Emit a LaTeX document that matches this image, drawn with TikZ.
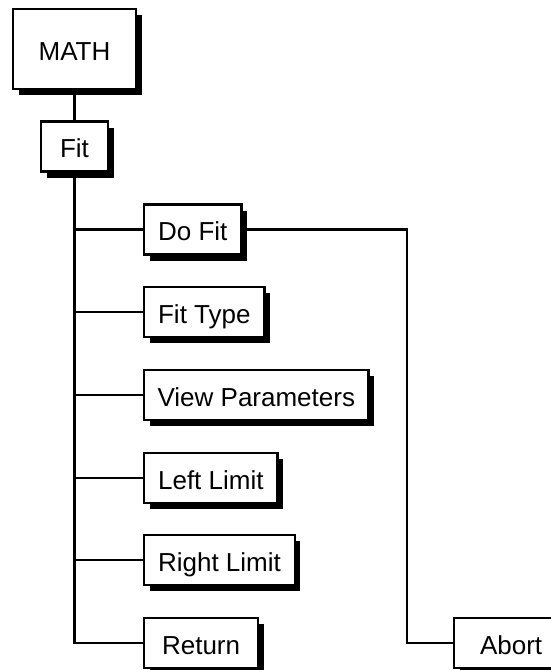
\documentclass[tikz,border=0pt]{standalone}
\usepackage{fontspec}
\setmainfont{Liberation Sans}
\usetikzlibrary{shadows}

\tikzset{
  menubox/.style={draw, line width=2.2pt, fill=white, anchor=west,
    minimum height=50pt, inner xsep=14pt, text height=22pt, text depth=0pt,
    font=\fontsize{26}{30}\selectfont,
    drop shadow={shadow xshift=5.5pt, shadow yshift=-6pt, fill=black, opacity=1}},
  link/.style={line width=2.2pt}
}

\begin{document}
\begin{tikzpicture}[x=1pt, y=-1pt]
    \useasboundingbox (0, 0) rectangle (551, 670);

    % Raiz del menu
    \node[menubox, anchor=center, minimum width=123pt, minimum height=80pt] (math) at (74.5, 49) {MATH};
    \node[menubox, anchor=center, minimum width=67pt] (fit) at (74.5, 146.5) {Fit};
    \draw[link] (math.south) -- (fit.north);

    % Opciones de Fit
    \node[menubox] (dofit) at (143, 229.5) {Do Fit};
    \node[menubox] (fittype) at (143, 312) {Fit Type};
    \node[menubox, inner xsep=13.5pt] (viewpar) at (143, 395) {View Parameters};
    \node[menubox] (leftlim) at (143, 478) {Left Limit};
    \node[menubox] (rightlim) at (143, 560) {Right Limit};
    \node[menubox, minimum width=114pt] (return) at (143, 643) {Return};

    % Tronco y ramas
    \draw[link] (fit.south) |- (return.west);
    \foreach \opt in {dofit, fittype, viewpar, leftlim, rightlim}
      \draw[link] (fit.south |- \opt.west) -- (\opt.west);

    % Submenu de Do Fit
    \node[menubox, minimum width=114pt] (abort) at (453, 643) {Abort};
    \coordinate (turn) at (407, 643);
    \draw[link] (dofit.east) -| (turn) -- (abort.west);
\end{tikzpicture}
\end{document}
